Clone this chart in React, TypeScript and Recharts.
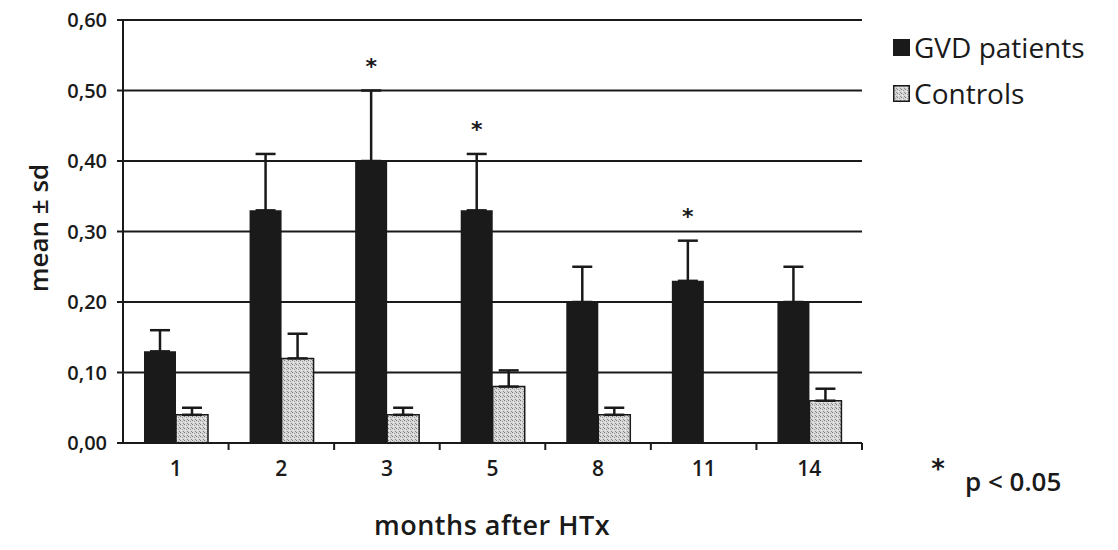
import React from "react";
import {
  BarChart,
  Bar,
  XAxis,
  YAxis,
  CartesianGrid,
  ErrorBar,
  LabelList,
} from "recharts";

const months = ["1", "2", "3", "5", "8", "11", "14"];
const gvdMean = [0.13, 0.33, 0.4, 0.33, 0.2, 0.23, 0.2];
const gvdSd = [0.03, 0.08, 0.1, 0.08, 0.05, 0.057, 0.05];
const ctrlMean = [0.04, 0.12, 0.04, 0.08, 0.04, null, 0.06];
const ctrlSd = [0.01, 0.035, 0.01, 0.023, 0.01, null, 0.017];
const significant = [false, false, true, true, false, true, false];
const yTicks = [0, 0.1, 0.2, 0.3, 0.4, 0.5, 0.6];

const rows = months.map((m, i) => ({
  month: m,
  gvd: gvdMean[i],
  gvdErr: [0, gvdSd[i]],
  ctrl: ctrlMean[i],
  ctrlErr: ctrlSd[i] == null ? null : [0, ctrlSd[i]],
  star: significant[i] ? "*" : "",
}));

const FONT = "'Open Sans', Lato, sans-serif";
const STAR_FONT = "'DejaVu Sans', sans-serif";
const INK = "#1a1a1a";

// asterisk sits ~27px above the top of the error bar
const StarLabel = (props: any) => {
  const { x, y, width, height, value, index } = props;
  if (!value) return null;
  const errPx = (height * gvdSd[index]) / gvdMean[index];
  const cy = y - errPx - 28;
  return (
    <text
      x={x + width / 2}
      y={cy + 11}
      textAnchor="middle"
      fontFamily={STAR_FONT}
      fontWeight={700}
      fontSize={22}
      fill={INK}
    >
      *
    </text>
  );
};

// month label centred in its band, tick mark on the band's right edge
const MonthTick = (props: any) => {
  const { x, y, payload } = props;
  const half = payload && payload.offset ? payload.offset : 52.8;
  return (
    <g>
      <line x1={x + half} x2={x + half} y1={y} y2={y + 7} stroke={INK} strokeWidth={2} />
      <text
        x={x}
        y={y + 33}
        textAnchor="middle"
        fontFamily={FONT}
        fontWeight={600}
        fontSize={21}
        fill={INK}
      >
        {payload.value}
      </text>
    </g>
  );
};

const Stipple = ({ id }: { id: string }) => (
  <pattern id={id} width="4" height="4" patternUnits="userSpaceOnUse">
    <rect width="4" height="4" fill="#d6d6d6" />
    <rect x="0" y="0" width="1" height="1" fill="#7a7a7a" />
    <rect x="2" y="1" width="1" height="1" fill="#a0a0a0" />
    <rect x="1" y="2" width="1" height="1" fill="#f2f2f2" />
    <rect x="3" y="3" width="1" height="1" fill="#8c8c8c" />
  </pattern>
);

export default function App() {
  return (
    <div
      style={{
        position: "absolute",
        left: 0,
        top: 0,
        width: 1118,
        height: 550,
        background: "#fff",
        fontFamily: FONT,
        color: INK,
      }}
    >
      <BarChart
        width={1118}
        height={550}
        data={rows}
        margin={{ top: 20, right: 256, bottom: 77, left: 0 }}
        barGap={0}
        barSize={32}
      >
        <defs>
          <Stipple id="stipple" />
        </defs>
        <CartesianGrid vertical={false} stroke={INK} strokeWidth={2} />
        <XAxis
          dataKey="month"
          height={30}
          stroke={INK}
          strokeWidth={2}
          tickLine={false}
          tickSize={0}
          tickMargin={0}
          interval={0}
          tick={MonthTick}
        />
        <YAxis
          width={123}
          domain={[0, 0.6]}
          ticks={yTicks}
          tickFormatter={(v: number) => v.toFixed(2).replace(".", ",")}
          tickSize={6}
          tickMargin={10}
          stroke={INK}
          strokeWidth={2}
          tick={{ fill: INK, fontSize: 20, fontWeight: 600, fontFamily: FONT }}
        />
        <Bar dataKey="gvd" fill={INK} isAnimationActive={false}>
          <ErrorBar dataKey="gvdErr" width={10} strokeWidth={2.5} stroke={INK} direction="y" />
          <LabelList dataKey="star" content={StarLabel} />
        </Bar>
        <Bar dataKey="ctrl" fill="url(#stipple)" stroke={INK} strokeWidth={1.5} isAnimationActive={false}>
          <ErrorBar dataKey="ctrlErr" width={10} strokeWidth={2.5} stroke={INK} direction="y" />
        </Bar>
      </BarChart>

      {/* y axis title */}
      <div
        style={{
          position: "absolute",
          left: 38,
          top: 228,
          transform: "translate(-50%, -50%) rotate(-90deg)",
          whiteSpace: "nowrap",
          fontSize: 26,
          fontWeight: 600,
        }}
      >
        mean ± sd
      </div>

      {/* x axis title */}
      <div
        style={{
          position: "absolute",
          left: 492,
          top: 524,
          transform: "translate(-50%, -50%)",
          whiteSpace: "nowrap",
          fontSize: 27,
          fontWeight: 600,
          letterSpacing: 0.5,
        }}
      >
        months after HTx
      </div>

      {/* legend */}
      <div style={{ position: "absolute", left: 893, top: 29, fontSize: 28, lineHeight: "36px" }}>
        <div style={{ display: "flex", alignItems: "center", height: 36 }}>
          <span style={{ display: "inline-block", width: 17, height: 17, background: INK, marginRight: 4 }} />
          GVD patients
        </div>
        <div style={{ display: "flex", alignItems: "center", height: 36, marginTop: 10 }}>
          <svg width={17} height={17} style={{ marginRight: 4 }}>
            <defs>
              <Stipple id="stipple-legend" />
            </defs>
            <rect x={0.75} y={0.75} width={15.5} height={15.5} fill="url(#stipple-legend)" stroke={INK} strokeWidth={1.5} />
          </svg>
          Controls
        </div>
      </div>

      {/* significance note */}
      <svg style={{ position: "absolute", left: 0, top: 0 }} width={1118} height={550}>
        <text x={938} y={478} textAnchor="middle" fontFamily={STAR_FONT} fontWeight={700} fontSize={26} fill={INK}>
          *
        </text>
        <text x={965} y={491} fontFamily={FONT} fontWeight={600} fontSize={26} fill={INK}>
          p &lt; 0.05
        </text>
      </svg>
    </div>
  );
}
